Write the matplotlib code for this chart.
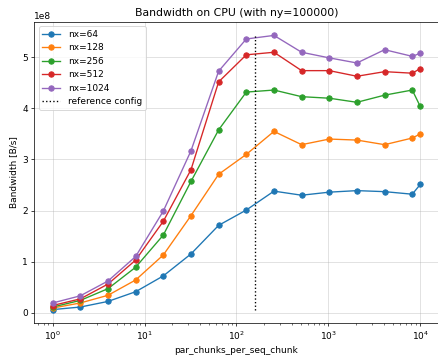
import matplotlib
matplotlib.use("Agg")
import matplotlib.pyplot as plt
import numpy as np

# par_chunks_per_seq_chunk values
par_chunks = [1, 2, 4, 8, 16, 32, 64, 128, 256, 512, 1024, 2048, 4096, 8192, 10000]

# bandwidth in B/s (units of 1e8)
bw_nx64 = [0.06, 0.11, 0.22, 0.41, 0.72, 1.15, 1.71, 2.01, 2.38, 2.30, 2.36, 2.39, 2.37, 2.32, 2.51]
bw_nx128 = [0.09, 0.19, 0.34, 0.64, 1.13, 1.90, 2.71, 3.10, 3.55, 3.29, 3.40, 3.38, 3.29, 3.42, 3.50]
bw_nx256 = [0.11, 0.24, 0.47, 0.89, 1.52, 2.57, 3.58, 4.32, 4.36, 4.23, 4.20, 4.12, 4.26, 4.36, 4.04]
bw_nx512 = [0.14, 0.27, 0.56, 1.03, 1.79, 2.80, 4.52, 5.05, 5.10, 4.74, 4.74, 4.63, 4.72, 4.69, 4.78]
bw_nx1024 = [0.19, 0.33, 0.62, 1.10, 1.99, 3.17, 4.73, 5.36, 5.43, 5.10, 4.99, 4.89, 5.15, 5.02, 5.08]

series = [
    ("nx=64", bw_nx64),
    ("nx=128", bw_nx128),
    ("nx=256", bw_nx256),
    ("nx=512", bw_nx512),
    ("nx=1024", bw_nx1024),
]

REFERENCE_CHUNKS = 160
DPI = 65

fig = plt.figure(figsize=(438 / DPI, 356 / DPI), dpi=DPI)
ax = fig.add_axes([34.3 / 438, (356 - 323.3) / 356, (438.6 - 34.3) / 438, (323.3 - 21.7) / 356])

all_vals = []
for label, vals in series:
    vals = np.array(vals) * 1e8
    all_vals.append(vals)
    ax.plot(par_chunks, vals, marker="o", label=label)

all_vals = np.concatenate(all_vals)
ax.vlines(REFERENCE_CHUNKS, all_vals.min(), all_vals.max(), colors="black",
          linestyles="dotted", label="reference config")

ax.set_xscale("log")
ax.set_xlabel("par_chunks_per_seq_chunk")
ax.set_ylabel("Bandwidth [B/s]")
ax.set_title("Bandwidth on CPU (with ny=100000)")
ax.grid(True, alpha=0.5)
ax.legend(loc="upper left")

fig.savefig("out.png", dpi=DPI)
